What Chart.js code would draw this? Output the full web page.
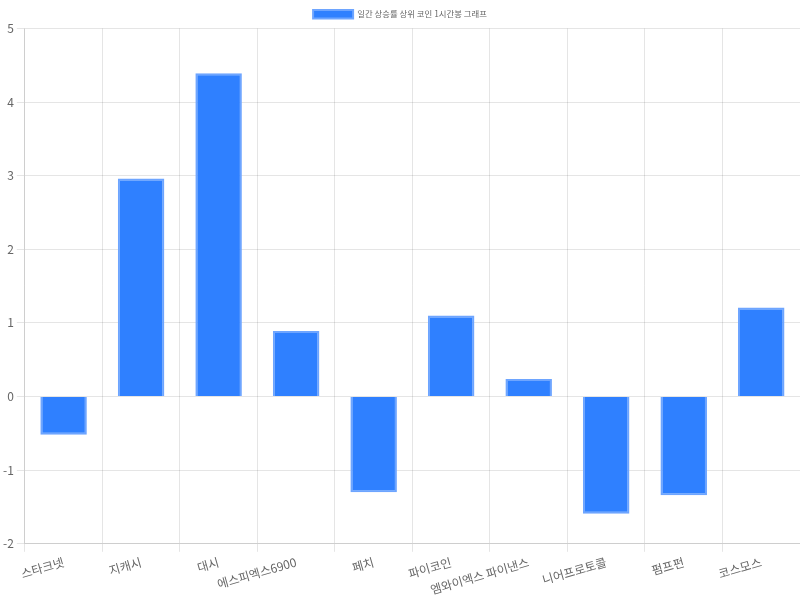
<!DOCTYPE html>
<html>
<head>
<meta charset="utf-8">
<script src="https://cdn.jsdelivr.net/npm/chart.js@4.4.0/dist/chart.umd.min.js"></script>
<style>
  html, body { margin: 0; padding: 0; background: #fff; }
  #wrap { width: 800px; height: 600px; }
</style>
</head>
<body>
<div id="wrap"><canvas id="coinChart"></canvas></div>
<script>
// 코인 이름과 1시간봉 상승률 값
const coinNames = ['스타크넷', '지캐시', '대시', '에스피엑스6900', '페치', '파이코인', '엠와이엑스 파이낸스', '니어프로토콜', '펌프펀', '코스모스'];
const changeValues = [-0.52, 2.96, 4.39, 0.89, -1.30, 1.10, 0.24, -1.59, -1.34, 1.21];
const seriesLabel = '일간 상승률 상위 코인 1시간봉 그래프';

Chart.defaults.font.family = '"Noto Sans CJK KR", "Noto Sans", sans-serif';
Chart.defaults.color = '#666';

const ctx = document.getElementById('coinChart');
new Chart(ctx, {
    type: 'bar',
    data: {
        labels: coinNames,
        datasets: [{
            label: seriesLabel,
            data: changeValues,
            backgroundColor: 'rgb(47, 128, 255)',
            borderColor: 'rgba(110, 165, 255, 1)',
            borderWidth: 2,
            barPercentage: 0.75,
            categoryPercentage: 0.8
        }]
    },
    options: {
        responsive: true,
        maintainAspectRatio: false,
        animation: false,
        plugins: {
            legend: {
                display: true,
                position: 'top',
                labels: {
                    font: { size: 8.4 },
                    boxWidth: 40
                }
            },
            tooltip: { enabled: false }
        },
        scales: {
            x: {
                ticks: {
                    autoSkip: false,
                    font: { size: 12 }
                }
            },
            y: {
                min: -2,
                max: 5,
                ticks: {
                    stepSize: 1,
                    font: { size: 12 }
                }
            }
        }
    }
});
</script>
</body>
</html>
